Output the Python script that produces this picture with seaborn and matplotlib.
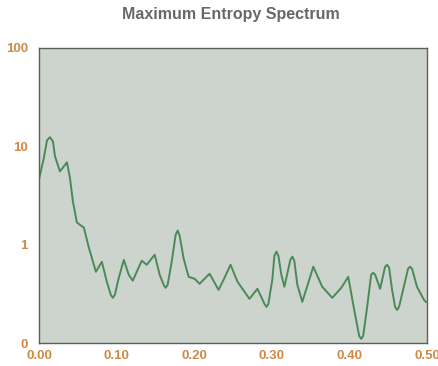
import matplotlib
matplotlib.use("Agg")
import matplotlib.pyplot as plt
import seaborn as sns
import pandas as pd

title = "Maximum Entropy Spectrum"
freq = [0.000, 0.0064, 0.0103, 0.0141, 0.0180, 0.0206, 0.0270, 0.0360, 0.0398, 0.0437,
        0.0488, 0.0578, 0.0643, 0.0733, 0.0810, 0.0874, 0.0925, 0.0951, 0.0977, 0.1028,
        0.1093, 0.1157, 0.1208, 0.1324, 0.1388, 0.1491, 0.1555, 0.1607, 0.1632, 0.1658,
        0.1710, 0.1761, 0.1787, 0.1812, 0.1864, 0.1928, 0.2005, 0.2069, 0.2198, 0.2314,
        0.2391, 0.2468, 0.2558, 0.2712, 0.2815, 0.2905, 0.2931, 0.2956, 0.3008, 0.3033,
        0.3059, 0.3085, 0.3123, 0.3162, 0.3239, 0.3265, 0.3290, 0.3329, 0.3393, 0.3535,
        0.3650, 0.3779, 0.3895, 0.3985, 0.4062, 0.4126, 0.4152, 0.4177, 0.4229, 0.4280,
        0.4306, 0.4332, 0.4396, 0.4460, 0.4486, 0.4512, 0.4550, 0.4589, 0.4614, 0.4640,
        0.4756, 0.4781, 0.4807, 0.4871, 0.4961, 0.4987]
power = [4.61, 7.72, 11.5, 12.4, 11.2, 7.91, 5.56, 6.87, 4.83, 2.75,
         1.68, 1.49, 0.93, 0.53, 0.67, 0.42, 0.309, 0.288, 0.309, 0.46,
         0.70, 0.494, 0.43, 0.687, 0.625, 0.79, 0.494, 0.391, 0.364, 0.391,
         0.67, 1.26, 1.39, 1.24, 0.72, 0.471, 0.45, 0.40, 0.506, 0.347,
         0.46, 0.625, 0.42, 0.281, 0.356, 0.25, 0.233, 0.25, 0.45, 0.77,
         0.85, 0.77, 0.494, 0.373, 0.70, 0.755, 0.687, 0.391, 0.262, 0.597,
         0.373, 0.288, 0.364, 0.471, 0.217, 0.118, 0.110, 0.118, 0.233, 0.494,
         0.518, 0.494, 0.356, 0.597, 0.625, 0.58, 0.347, 0.233, 0.217, 0.233,
         0.569, 0.597, 0.569, 0.373, 0.275, 0.26]
xtick_vals = [0.0, 0.1, 0.2, 0.3, 0.4, 0.5]
xtick_labels = ["0.00", "0.10", "0.20", "0.30", "0.40", "0.50"]
ytick_vals = [0.1, 1, 10, 100]
ytick_labels = ["0", "1", "10", "100"]

df = pd.DataFrame({"freq": freq, "power": power})

sns.set_theme(style="white")
plt.rcParams["font.family"] = ["Liberation Sans", "DejaVu Sans"]

fig = plt.figure(figsize=(4.39, 3.66), dpi=100)
fig.patch.set_facecolor("white")
ax = fig.add_axes([39/439, 1 - 343/366, (427-39)/439, (343-48)/366])
ax.set_facecolor("#ccd4cd")

sns.lineplot(data=df, x="freq", y="power", ax=ax, color="#4a8a57", linewidth=1.4,
             solid_joinstyle="round", solid_capstyle="round")
ax.set_yscale("log")
ax.set_xlim(0, 0.5)
ax.set_ylim(0.1, 100)
ax.set_xticks(xtick_vals)
ax.set_xticklabels(xtick_labels)
ax.set_yticks(ytick_vals)
ax.set_yticklabels(ytick_labels)
ax.minorticks_off()
ax.set_xlabel("")
ax.set_ylabel("")
ax.tick_params(axis="both", length=0, labelsize=9.5, labelcolor="#cc8a45")
ax.tick_params(axis="x", pad=5)
ax.tick_params(axis="y", pad=8)
for lab in ax.get_xticklabels() + ax.get_yticklabels():
    lab.set_fontweight("bold")
for sp in ax.spines.values():
    sp.set_visible(True)
    sp.set_color("#5a5f5a")
    sp.set_linewidth(1.0)

fig.text(0.525, 1 - 15/366, title, ha="center", va="center", fontsize=11.5,
         fontweight="bold", color="#686868")

fig.savefig("out.png", dpi=100, facecolor="white")
